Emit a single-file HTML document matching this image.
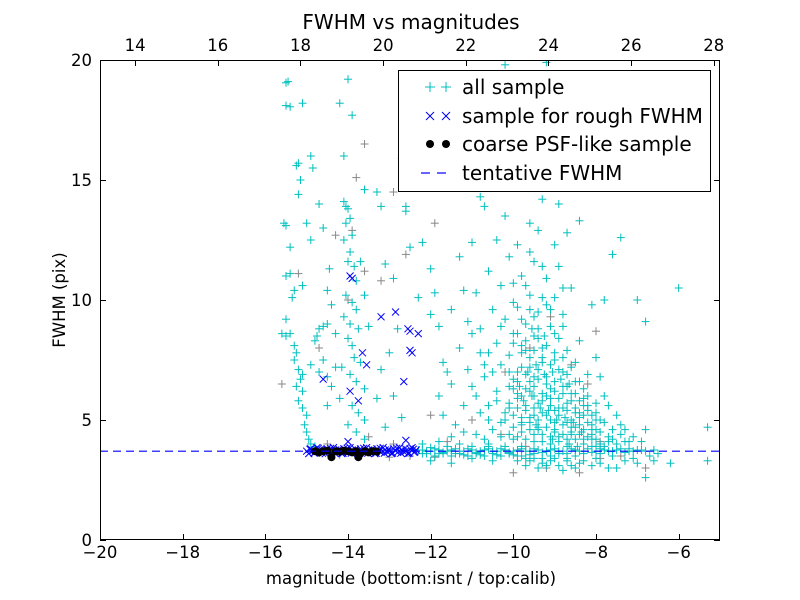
<!DOCTYPE html>
<html><head><meta charset="utf-8"><style>
html,body{margin:0;padding:0;background:#fff;}
svg{display:block;font-family:"DejaVu Sans","Liberation Sans",sans-serif;}
</style></head><body>
<svg id="chart" width="800" height="600" viewBox="0 0 800 600">
<rect x="0" y="0" width="800" height="600" fill="#fff"/>
<text x="411" y="29" font-size="20" text-anchor="middle">FWHM vs magnitudes</text>
<text x="411" y="584" font-size="16.5" text-anchor="middle">magnitude (bottom:isnt / top:calib)</text>
<text x="65" y="300" font-size="16.5" text-anchor="middle" transform="rotate(-90 65 300)">FWHM (pix)</text>
<g id="marks"></g>
<g id="axes"></g>
<g>
<rect x="398.5" y="70.5" width="312" height="121" fill="#fff" stroke="#000" stroke-width="1"/>
<g stroke="#00bfbf" stroke-width="1"><line x1="425" y1="87" x2="435" y2="87"/><line x1="430" y1="82" x2="430" y2="92"/><line x1="441" y1="87" x2="451" y2="87"/><line x1="446" y1="82" x2="446" y2="92"/></g>
<text x="462" y="94" font-size="20">all sample</text>
<g stroke="#0000ff" stroke-width="1"><line x1="426" y1="112" x2="434" y2="120"/><line x1="426" y1="120" x2="434" y2="112"/><line x1="442" y1="112" x2="450" y2="120"/><line x1="442" y1="120" x2="450" y2="112"/></g>
<text x="462" y="123" font-size="20">sample for rough FWHM</text>
<circle cx="430" cy="144" r="4" fill="#000"/><circle cx="446" cy="144" r="4" fill="#000"/>
<text x="462" y="151" font-size="20">coarse PSF-like sample</text>
<g stroke="#0000ff" stroke-width="1.2"><line x1="421" y1="173" x2="430" y2="173"/><line x1="437" y1="173" x2="446" y2="173"/></g>
<text x="462" y="180" font-size="20">tentative FWHM</text>
</g>
</svg>
<script>
const xTicks=[-20,-18,-16,-14,-12,-10,-8,-6];
const topTicks=[14,16,18,20,22,24,26,28];
const yTicks=[0,5,10,15,20];
const tentativeFwhm=3.7;
const cyanPts=[[-15.45,19.1],[-15.5,19.05],[-15.5,18.1],[-15.4,18.05],[-15.1,18.2],[-15.2,15.7],[-15.25,15.6],[-15.15,15],[-15.2,14.4],[-15.55,13.2],[-15.5,13.1],[-15.4,12.2],[-14.9,12.5],[-15.5,11],[-15.4,11.1],[-15.3,10.4],[-15.35,10.1],[-15.1,10.6],[-15.5,9.2],[-15.6,8.6],[-15.5,8.5],[-15.4,8.6],[-15.3,8.1],[-15.25,7.8],[-15.3,7.5],[-15.2,7.1],[-15.15,6.7],[-15.25,6.4],[-15.1,6.2],[-15.2,5.8],[-15.1,5.5],[-15.0,5.2],[-15.05,4.8],[-15.0,4.5],[-14.95,4.2],[-14.9,4.0],[-14.8,3.9],[-15.1,6.9],[-14.9,7.3],[-14.7,7.0],[-14.8,8.3],[-14.7,8.8],[-14.75,8.5],[-14.6,8.9],[-14.5,9.0],[-14.6,7.5],[-14.5,6.8],[-14.4,6.4],[-14.5,5.6],[-14.3,7.2],[-14.3,8.6],[-14.4,9.8],[-14.45,11.3],[-14.5,10.4],[-14.6,13],[-14.2,18.2],[-14.1,16.0],[-14.9,16.0],[-14.85,15.5],[-14.7,14.0],[-15.0,13.2],
[-14.1,14.1],[-14.05,13.9],[-14.0,13.8],[-13.95,13.4],[-14.05,13.2],[-13.9,12.7],[-14.1,12.5],[-13.95,12.0],[-14.0,11.6],[-13.85,11.4],[-13.8,10.8],[-14.05,10.2],[-13.9,9.9],[-13.8,9.6],[-14.1,9.3],[-13.95,9.0],[-13.75,8.8],[-14.0,8.4],[-13.9,8.1],[-13.85,7.6],[-13.7,7.4],[-14.15,7.2],[-13.95,6.9],[-13.8,6.6],[-13.6,6.3],[-14.2,5.9],[-13.9,5.6],[-13.75,5.3],[-13.6,5.0],[-14.0,4.8],[-13.8,4.5],[-13.6,4.2],[-13.6,14.6],[-13.7,11.6],[-13.5,8.9],[-13.6,10.2],[-13.9,17.7],[-14.0,19.2],[-13.3,14.5],[-13.2,13.9],[-13.1,11.5],[-12.9,10.9],[-12.8,8.8],[-13.0,7.8],[-13.2,7.1],[-13.3,5.9],[-12.9,6.0],[-13.1,4.7],[-12.7,5.1],
[-12.6,13.9],[-12.6,13.7],[-12.5,12.2],[-12.2,12.4],[-12.0,11.3],[-11.9,10.3],[-12.3,10.1],[-12.0,9.4],[-11.8,8.9],[-11.7,7.4],[-11.6,7.0],[-11.5,6.5],[-11.8,6.0],[-11.7,5.2],[-11.3,11.8],[-11.0,12.4],[-11.2,10.4],[-11.1,9.1],[-11.3,8.0],[-11.1,7.1],[-11.0,6.4],[-11.2,5.6],[-11.4,4.8],[-12.1,19.3],[-12.2,15.6],[-12.3,17.5],[-11.5,4.3],
[-10.2,19.8],[-9.2,19.9],[-9.5,17.9],[-10.0,17.2],[-9.7,16.5],[-9.9,15.6],[-10.5,15.0],[-10.8,14.3],[-9.3,14.2],[-8.9,14.0],[-8.4,13.3],[-10.2,13.5],[-9.6,13.2],[-10.7,13.9],[-9.4,12.9],[-8.7,12.8],[-10.4,12.5],[-9.9,12.3],[-10.1,11.8],[-9.5,11.6],[-8.9,11.4],[-10.6,11.2],[-9.8,11.0],[-9.2,10.9],[-10.3,10.6],[-8.6,10.5],[-10.9,10.3],[-9.6,10.2],[-9.0,10.1],[-10.0,9.9],[-10.5,9.6],[-9.4,9.5],[-8.8,9.4],[-10.2,9.2],[-9.7,9.0],[-9.1,8.9],[-10.8,8.8],[-10.0,8.6],[-9.5,8.5],[-8.9,8.4],[-8.4,8.3],[-10.4,8.2],[-9.8,8.1],[-9.3,8.0],[-8.7,7.9],[-10.6,7.8],[-10.1,7.7],[-9.6,7.6],[-9.0,7.5],[-8.5,7.4],[-10.3,7.3],[-9.8,7.2],[-9.4,7.1],[-8.8,7.0],[-8.2,6.9],[-10.7,6.8],[-10.0,6.7],[-9.6,6.6],[-9.2,6.5],[-8.7,6.4],[-8.3,6.3],[-10.4,6.2],[-9.9,6.1],[-9.5,6.0],[-9.1,5.9],[-8.6,5.8],[-8.0,5.7],[-10.6,5.6],[-10.1,5.5],[-9.7,5.4],[-9.3,5.3],[-8.9,5.2],[-8.4,5.1],[-7.9,5.0],[-10.3,4.9],[-9.8,4.8],[-9.4,4.7],[-9.0,4.6],[-8.6,4.5],[-8.1,4.4],[-7.7,4.3],[-10.0,4.2],[-9.5,4.1],[-9.1,4.0],[-8.7,3.9],[-8.3,4.2],[-7.6,4.6],[-9.6,3.3],[-9.2,3.1],[-8.8,2.9],[-8.4,3.2],[-8.0,3.4],[-9.9,5.9],[-9.7,6.3],[-9.5,6.8],[-9.3,7.4],[-9.0,6.2],[-8.8,5.5],[-8.5,6.6],[-8.4,4.8],[-8.2,5.4],[-9.9,7.0],[-9.7,7.9],[-9.5,5.2],[-9.3,4.4],[-9.1,5.0],[-8.9,4.3],[-8.7,4.9],[-8.5,5.3],[-8.3,5.9],[-8.1,5.2],[-9.8,5.1],[-9.6,4.6],[-9.4,5.7],[-9.2,6.0],[-9.0,5.4],[-8.8,6.1],[-8.6,4.4],[-10.1,6.4],[-10.2,5.3],[-10.5,4.6],[-10.8,5.3],[-10.9,4.4],[-11.3,4.0],[-10.7,7.3],[-10.9,6.0],[-10.0,10.7],[-9.6,12.0],[-9.3,11.4],[-9.0,12.3],[-8.8,10.5],[-8.1,9.8],[-8.0,7.6],[-7.9,6.8],[-7.8,6.0],[-7.7,5.6],[-7.5,5.2],[-7.4,4.8],[-7.3,4.1],[-8.0,3.9],[-7.6,3.5],[-8.6,3.1],[-9.0,3.4],[-9.4,3.0],[-9.8,3.5],
[-7.8,10.0],[-7.6,11.9],[-7.4,12.6],[-7.0,10.0],[-6.8,9.1],[-6.0,10.5],[-5.3,4.7],[-5.3,3.3],[-6.2,3.2],[-6.5,3.6],[-6.8,2.6],[-6.9,4.1],[-7.1,4.3],[-7.3,4.6],[-7.5,3.0],[-7.0,3.2],[-6.7,3.5],[-6.6,3.3],[-6.8,4.6],[-7.2,3.8],
[-12.3,3.75],[-12.1,3.7],[-11.9,3.8],[-11.7,3.65],[-11.5,3.75],[-11.3,3.7],[-11.1,3.8],[-10.9,3.65],[-10.7,3.75],[-10.5,3.7],[-10.3,3.8],[-10.1,3.65],[-9.9,3.75],[-9.7,3.7],[-9.5,3.8],[-9.3,3.65],[-9.1,3.75],[-8.9,3.7],[-8.7,3.6],[-8.5,3.75],[-8.3,3.7],[-8.1,3.65],[-7.9,3.8],[-7.7,3.7],[-7.5,3.75],[-7.3,3.65],[-7.1,3.7],[-6.9,3.75],[-12.2,3.6],[-12.0,3.85],[-11.8,3.6],[-11.6,3.9],[-11.4,3.6],[-11.2,3.55],[-11.0,3.9],[-10.8,3.55],[-10.6,3.9],[-10.4,3.55],[-10.2,3.9],[-10.0,3.55],[-9.8,3.9],[-9.6,3.55],[-12.0,3.3],[-11.5,3.2],[-11.0,3.4],[-10.5,3.3],[-12.2,4.0],[-11.8,4.1],[-10.6,4.0]];
const cyanDense=[[-10.0,8.2],[-9.9,8.6],[-9.8,7.8],[-9.7,8.3],[-9.6,7.2],[-9.5,7.9],[-9.4,8.4],[-9.3,7.6],[-9.2,8.1],[-9.1,7.3],[-9.0,7.8],[-8.9,7.1],[-8.8,7.6],[-8.7,6.9],[-8.6,7.2],[-8.5,6.1],[-8.4,6.6],[-8.3,5.6],[-8.2,6.0],[-8.1,4.8],[-8.0,5.3],[-7.9,4.5],[-7.8,4.9],[-7.7,4.1],
[-10.1,7.0],[-10.0,6.3],[-9.9,6.6],[-9.8,6.0],[-9.7,6.9],[-9.6,6.2],[-9.5,6.4],[-9.4,6.7],[-9.3,6.1],[-9.2,6.8],[-9.1,6.3],[-9.0,6.6],[-8.9,5.9],[-8.8,6.4],[-8.7,5.7],[-8.6,6.1],[-8.5,5.5],[-8.4,5.8],[-8.3,5.2],[-8.2,5.6],[-8.1,4.6],[-8.0,5.0],
[-10.2,5.0],[-10.1,5.7],[-10.0,5.2],[-9.9,5.5],[-9.8,4.9],[-9.7,5.6],[-9.6,5.1],[-9.5,5.5],[-9.4,5.0],[-9.3,5.8],[-9.2,5.2],[-9.1,5.6],[-9.0,4.9],[-8.9,5.5],[-8.8,4.8],[-8.7,5.4],[-8.6,5.0],[-8.5,4.7],[-8.4,5.3],[-8.3,4.6],[-8.2,4.9],[-8.1,4.2],[-8.0,4.6],[-7.9,4.0],
[-10.1,4.4],[-10.0,4.7],[-9.9,4.3],[-9.8,4.5],[-9.7,4.2],[-9.6,4.9],[-9.5,4.4],[-9.4,4.6],[-9.3,4.1],[-9.2,4.7],[-9.1,4.3],[-9.0,4.5],[-8.9,4.1],[-8.8,4.4],[-8.7,4.2],[-8.6,4.7],[-8.5,4.2],[-8.4,4.4],[-8.3,4.0],[-8.2,4.3],[-8.1,3.9],[-8.0,4.2],[-7.9,3.6],[-7.8,3.9],
[-9.9,3.3],[-9.7,3.1],[-9.5,3.4],[-9.3,3.2],[-9.1,3.3],[-8.9,3.1],[-8.7,3.3],[-8.5,3.0],[-8.3,3.3],[-8.1,3.1],[-7.9,3.2],[-7.7,3.0],[-9.8,9.2],[-9.6,9.6],[-9.4,8.8],[-9.2,9.8],[-9.0,8.6],[-8.8,8.9],[-9.9,9.7],[-9.7,10.6],[-9.5,9.3],[-9.3,10.1],[-9.1,9.6],[-10.3,8.9],[-10.5,7.0],[-10.4,5.8],[-10.6,5.0],[-10.3,4.3],[-10.8,7.8],[-11.0,8.6],[-11.5,9.6],[-11.2,4.5],[-10.7,4.2],
[-7.5,4.0],[-7.4,4.4],[-7.2,4.1],[-7.1,3.4],[-7.6,4.2],[-7.3,3.3],[-8.3,3.6],[-8.5,3.5],[-8.7,3.4],[-8.9,3.6],[-9.1,3.5],[-9.3,3.4],[-9.5,3.6],[-9.7,3.4],[-9.9,3.5],[-10.1,3.6],[-10.3,3.5],[-10.5,3.6],[-10.7,3.5],[-10.9,3.6],[-11.1,3.5],[-11.3,3.6],[-11.5,3.5],[-11.7,3.6],[-11.9,3.5],[-12.1,3.6],
[-12.2,3.75],[-12.0,3.7],[-11.8,3.75],[-11.6,3.7],[-11.4,3.8],[-11.2,3.7],[-11.0,3.75],[-10.8,3.7],[-10.6,3.8],[-10.4,3.7],[-10.2,3.75],[-10.0,3.7],[-9.8,3.8],[-9.6,3.7],[-9.4,3.75],[-9.2,3.7],[-9.0,3.8],[-8.8,3.7],[-8.6,3.8],[-8.4,3.7],[-8.2,3.8],[-8.0,3.7],[-7.8,3.75],[-7.6,3.7],[-7.4,3.8],[-7.2,3.7],[-7.0,3.75],[-6.8,3.7],[-6.6,3.75],
[-9.65,7.0],[-9.45,7.3],[-9.25,6.9],[-9.05,7.0],[-8.85,6.7],[-8.65,6.5],[-9.55,6.0],[-9.35,5.5],[-9.15,5.4],[-8.95,5.0],[-8.75,5.1],[-8.55,4.9],[-8.35,4.5],[-9.75,5.8],[-9.45,4.8],[-9.05,4.2],[-8.65,4.0],[-8.45,3.9],[-9.85,6.4],[-9.25,8.5],[-9.55,8.8]];
const greyPts=[[-15.6,6.5],[-15.2,11.1],[-14.7,8.0],[-14.3,12.7],[-13.6,11.2],[-13.2,10.8],[-14.0,10.0],[-13.9,12.9],[-12.6,11.9],[-12.7,15.9],[-12.4,18.7],[-12.9,14.5],[-13.6,16.5],[-13.8,15.1],[-12.0,5.2],[-11.6,4.1],[-11.0,5.0],[-10.2,7.0],[-9.6,8.0],[-9.1,9.3],[-8.6,7.3],[-8.2,6.5],[-7.9,4.1],[-7.4,3.5],[-6.8,3.0],[-7.9,3.4],[-8.4,2.8],[-9.7,3.9],[-10.3,4.4],[-12.5,3.5],[-11.9,3.45],[-14.5,4.0],[-13.5,4.3],[-12.9,4.0],[-10.0,2.8],[-9.2,3.0],[-8.0,8.7],[-11.9,13.2],[-11.4,19.4],[-10.9,18.1],[-10.4,17.4],[-14.2,3.55],[-13.0,3.45]];
const bluePts=[[-13.9,10.9],[-13.95,11],[-13.2,9.3],[-12.85,9.5],[-12.55,8.8],[-12.5,8.7],[-12.3,8.6],[-12.5,7.9],[-12.45,7.8],[-13.65,7.8],[-13.55,7.3],[-13.75,5.8],[-13.95,6.2],[-14.6,6.7],[-12.65,6.6],[-14.0,4.1],[-12.6,4.15],
[-15.0,3.7],[-14.9,3.8],[-14.8,3.65],[-14.7,3.75],[-14.6,3.7],[-14.5,3.8],[-14.4,3.65],[-14.3,3.75],[-14.2,3.7],[-14.1,3.8],[-14.0,3.65],[-13.9,3.75],[-13.8,3.7],[-13.7,3.8],[-13.6,3.65],[-13.5,3.75],[-13.4,3.7],[-13.3,3.8],[-13.2,3.65],[-13.1,3.75],[-13.0,3.7],[-12.9,3.8],[-12.8,3.65],[-12.7,3.75],[-12.6,3.7],[-12.5,3.8],[-12.4,3.65],[-12.35,3.75],[-14.95,3.6],[-14.75,3.85],[-14.55,3.6],[-14.35,3.85],[-14.15,3.6],[-13.95,3.85],[-13.75,3.6],[-13.55,3.85],[-13.35,3.6],[-13.15,3.85],[-12.95,3.6],[-12.75,3.85],[-12.55,3.6],[-12.45,3.85],[-14.85,3.72],[-14.65,3.68],[-14.45,3.72],[-14.25,3.68],[-14.05,3.72],[-13.85,3.68],[-13.65,3.72],[-13.45,3.68],[-13.25,3.72],[-13.05,3.68],[-12.85,3.72],[-12.65,3.68],
[-14.92,3.78],[-14.82,3.62],[-14.72,3.82],[-14.62,3.62],[-14.52,3.78],[-14.42,3.82],[-14.32,3.62],[-14.22,3.78],[-14.12,3.62],[-14.02,3.82],[-13.92,3.62],[-13.82,3.78],[-13.72,3.62],[-13.62,3.82],[-13.52,3.62],[-13.42,3.78],[-13.32,3.62],[-13.22,3.82],[-13.12,3.62],[-13.02,3.78],[-12.92,3.62],[-12.82,3.82],[-12.72,3.62],[-12.62,3.82],[-12.52,3.62],[-12.42,3.78],[-12.38,3.68]];
const psfPts=[[-14.8,3.7],[-14.7,3.65],[-14.6,3.7],[-14.5,3.72],[-14.4,3.45],[-14.3,3.7],[-14.2,3.68],[-14.1,3.72],[-14.0,3.7],[-13.9,3.65],[-13.8,3.7],[-13.75,3.45],[-13.7,3.6],[-13.6,3.7],[-13.5,3.65],[-13.4,3.7],[-13.3,3.68]];

const X0=100,X1=720,Y0=540,Y1=60,xmin=-20,xmax=-5,ymin=0,ymax=20,topOffset=33.15;
function sx(v){return X0+(v-xmin)/(xmax-xmin)*(X1-X0);}
function sy(v){return Y0-(v-ymin)/(ymax-ymin)*(Y0-Y1);}
const NS="http://www.w3.org/2000/svg";
function mk(tag,attrs,parent){const e=document.createElementNS(NS,tag);for(const k in attrs)e.setAttribute(k,attrs[k]);parent.appendChild(e);return e;}
const marks=document.getElementById('marks');
const axes=document.getElementById('axes');
const clip=mk('clipPath',{id:'pc'},marks);mk('rect',{x:X0,y:Y1,width:X1-X0,height:Y0-Y1},clip);
const plot=mk('g',{'clip-path':'url(#pc)'},marks);
function plus(p,color,name){const g=mk('g',{stroke:color,'stroke-width':1},plot);


const x=sx(p[0]),y=sy(p[1]);mk('line',{x1:x-4,y1:y,x2:x+4,y2:y},g);mk('line',{x1:x,y1:y-4,x2:x,y2:y+4},g);}
greyPts.forEach(p=>plus(p,'#888888','grey-point'));
cyanPts.forEach(p=>plus(p,'#00bfbf','all-sample-point'));
cyanDense.forEach(p=>plus(p,'#00bfbf','all-sample-point'));
bluePts.forEach(p=>{const g=mk('g',{stroke:'#0000ff','stroke-width':1},plot);


const x=sx(p[0]),y=sy(p[1]);mk('line',{x1:x-3.5,y1:y-3.5,x2:x+3.5,y2:y+3.5},g);mk('line',{x1:x-3.5,y1:y+3.5,x2:x+3.5,y2:y-3.5},g);});
psfPts.forEach(p=>{const c=mk('circle',{cx:sx(p[0]),cy:sy(p[1]),r:4,fill:'#000'},plot);

});
const tl=mk('line',{x1:X0,x2:X1,y1:sy(tentativeFwhm),y2:sy(tentativeFwhm),stroke:'#0000ff','stroke-width':1.2,'stroke-dasharray':'8,5'},plot);


const frame=mk('rect',{x:X0+0.5,y:Y1+0.5,width:X1-X0-1,height:Y0-Y1-1,fill:'none',stroke:'#000','stroke-width':1},axes);


xTicks.forEach(v=>{const x=Math.round(sx(v))+0.5;mk('line',{x1:x,x2:x,y1:Y0,y2:Y0-6,stroke:'#000'},axes);
const t=mk('text',{x:sx(v),y:Y0+18,'font-size':16.5,'text-anchor':'middle'},axes);t.textContent=(v<0?'\u2212'+(-v):v);

});
topTicks.forEach(v=>{const x=Math.round(sx(v-topOffset))+0.5;mk('line',{x1:x,x2:x,y1:Y1,y2:Y1+6,stroke:'#000'},axes);
const t=mk('text',{x:sx(v-topOffset),y:Y1-9,'font-size':16.5,'text-anchor':'middle'},axes);t.textContent=v;

});
yTicks.forEach(v=>{const y=Math.round(sy(v))+0.5;mk('line',{x1:X0,x2:X0+6,y1:y,y2:y,stroke:'#000'},axes);mk('line',{x1:X1,x2:X1-6,y1:y,y2:y,stroke:'#000'},axes);
const t=mk('text',{x:X0-8,y:sy(v)+6,'font-size':16.5,'text-anchor':'end'},axes);t.textContent=v;

});
</script>
</body></html>
